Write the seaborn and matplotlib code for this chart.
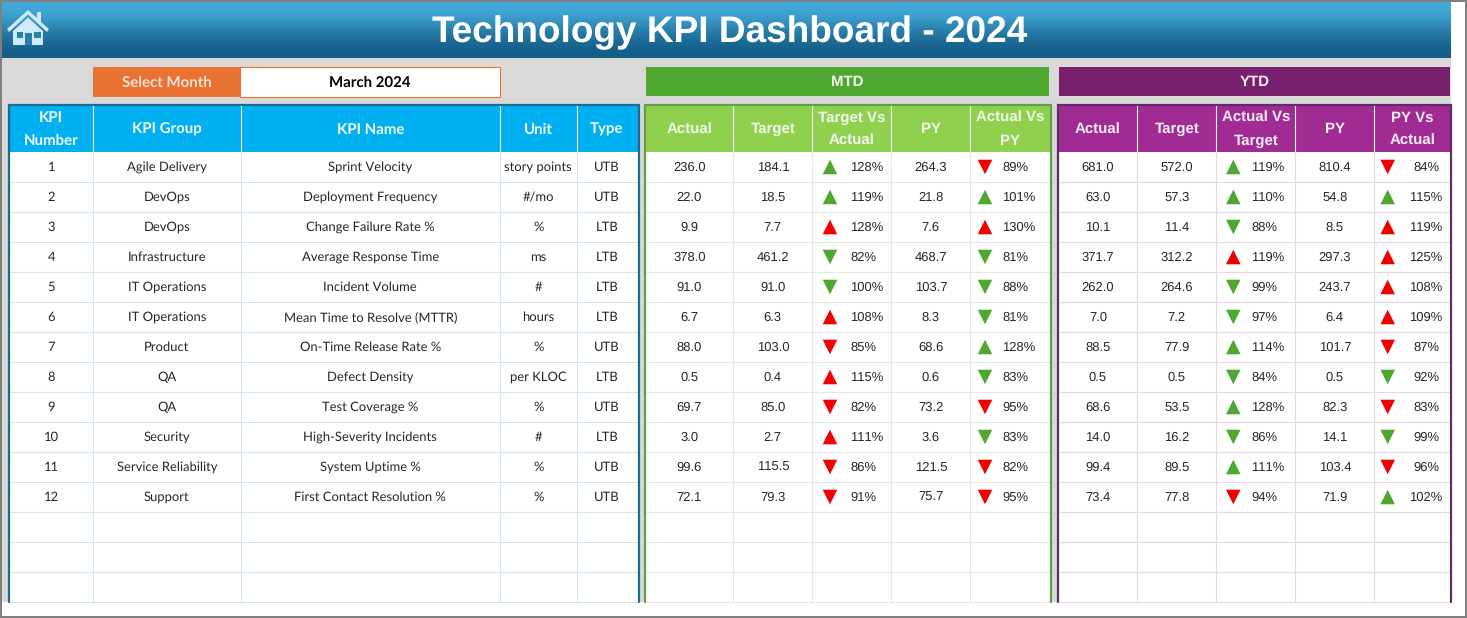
import numpy as np
import pandas as pd
import matplotlib
matplotlib.use('Agg')
import matplotlib.pyplot as plt
from matplotlib.patches import Rectangle, Polygon
import seaborn as sns

# ---- data ----
kpi_groups = ['Agile Delivery', 'DevOps', 'DevOps', 'Infrastructure', 'IT Operations', 'IT Operations',
              'Product', 'QA', 'QA', 'Security', 'Service Reliability', 'Support']
kpi_names = ['Sprint Velocity', 'Deployment Frequency', 'Change Failure Rate %', 'Average Response Time',
             'Incident Volume', 'Mean Time to Resolve (MTTR)', 'On-Time Release Rate %', 'Defect Density',
             'Test Coverage %', 'High-Severity Incidents', 'System Uptime %', 'First Contact Resolution %']
units = ['story points', '#/mo', '%', 'ms', '#', 'hours', '%', 'per KLOC', '%', '#', '%', '%']
types = ['UTB', 'UTB', 'LTB', 'LTB', 'LTB', 'LTB', 'UTB', 'LTB', 'UTB', 'LTB', 'UTB', 'UTB']

mtd_actual = [236.0, 22.0, 9.9, 378.0, 91.0, 6.7, 88.0, 0.5, 69.7, 3.0, 99.6, 72.1]
mtd_target = [184.1, 18.5, 7.7, 461.2, 91.0, 6.3, 103.0, 0.4, 85.0, 2.7, 115.5, 79.3]
mtd_py = [264.3, 21.8, 7.6, 468.7, 103.7, 8.3, 68.6, 0.6, 73.2, 3.6, 121.5, 75.7]
mtd_tva = [128, 119, 128, 82, 100, 108, 85, 115, 82, 111, 86, 91]
mtd_tva_dir = list('UUUDDUDUDUDD')
mtd_avp = [89, 101, 130, 81, 88, 81, 128, 83, 95, 83, 82, 95]
mtd_avp_dir = list('DUUDDDUDDDDD')

ytd_actual = [681.0, 63.0, 10.1, 371.7, 262.0, 7.0, 88.5, 0.5, 68.6, 14.0, 99.4, 73.4]
ytd_target = [572.0, 57.3, 11.4, 312.2, 264.6, 7.2, 77.9, 0.5, 53.5, 16.2, 89.5, 77.8]
ytd_py = [810.4, 54.8, 8.5, 297.3, 243.7, 6.4, 101.7, 0.5, 82.3, 14.1, 103.4, 71.9]
ytd_avt = [119, 110, 88, 119, 99, 97, 114, 84, 128, 86, 111, 94]
ytd_avt_dir = list('UUDUDDUDUDUD')
ytd_pva = [84, 115, 119, 125, 108, 109, 87, 92, 83, 99, 96, 102]
ytd_pva_dir = list('DUUUUUDDDDDU')

# ---- layout, in pixels of the 1467x618 picture ----
ROW_TOP = 151.5
ROW_H = 30
N_ROWS = 15
HEAD_TOP = 105
BOTTOM = 601.5
LEFT_EDGES = [9.5, 93, 240.5, 500, 576.5, 637.5]
MTD_EDGES = [645.5, 733.3, 812.3, 891.3, 970.3, 1049.5]
YTD_EDGES = [1058.5, 1137.3, 1216.3, 1295.3, 1374.3, 1450]

GREEN = '#4ea72e'
RED = '#f00000'
TEXT = '#262626'
BODY = 'Liberation Sans'
NARROW = 'Lato'

sns.set_theme(style='white')
plt.rcParams['text.hinting'] = 'no_hinting'
plt.rcParams['text.hinting_factor'] = 1
fig = plt.figure(figsize=(14.67, 6.18), dpi=100, facecolor='white')
ax = fig.add_axes([0, 0, 1, 1])
ax.set_axis_off()


def box(x0, y0, x1, y1, **kw):
    kw.setdefault('linewidth', 0)
    ax.add_patch(Rectangle((x0, y0), x1 - x0, y1 - y0, **kw))


def row_y(i):
    return ROW_TOP + ROW_H * (i + 0.5)


def draw_panel(edges, head_color, border, grid, headers, head_font, head_size, head_text):
    box(edges[0], HEAD_TOP, edges[-1], BOTTOM, facecolor='white', zorder=1)
    box(edges[0], HEAD_TOP, edges[-1], ROW_TOP, facecolor=head_color, zorder=2)
    ys = [ROW_TOP + ROW_H * k for k in range(1, N_ROWS + 1)]
    ax.hlines(ys, edges[0], edges[-1], color=grid, linewidth=0.8, zorder=3)
    ax.vlines(edges[1:-1], ROW_TOP, BOTTOM, color=grid, linewidth=0.8, zorder=3)
    ax.vlines(edges[1:-1], HEAD_TOP, ROW_TOP, color='#ffffff', linewidth=0.8, zorder=3)
    # open at the bottom, like the cropped sheet
    ax.plot([edges[0] - 1, edges[0] - 1, edges[-1] + 1, edges[-1] + 1],
            [BOTTOM, HEAD_TOP - 0.5, HEAD_TOP - 0.5, BOTTOM],
            color=border, linewidth=1.6, solid_joinstyle='miter', zorder=4)
    for c, label in enumerate(headers):
        cx = (edges[c] + edges[c + 1]) / 2
        lines = label.split('\n')
        line_ys = [118, 141] if len(lines) == 2 else [129.5]
        for line, y in zip(lines, line_ys):
            ax.text(cx, y, line, color=head_text, family=head_font, fontsize=head_size,
                    fontweight='bold', ha='center', va='center', zorder=5)


def draw_numbers(edges, c, values, font=BODY, size=9):
    cx = (edges[c] + edges[c + 1]) / 2
    for i, v in enumerate(values):
        label = v if isinstance(v, str) else f'{v:.1f}'
        ax.text(cx, row_y(i) + 1, label, color=TEXT, family=font, fontsize=size,
                ha='center', va='center', zorder=5)


def arrow_frame(x, pct_dirs):
    good = [(d == 'U') == (t == 'UTB') for d, t in zip(pct_dirs, types)]
    return pd.DataFrame({'x': x, 'y': [row_y(i) + 0.5 for i in range(len(pct_dirs))],
                         'dir': pct_dirs, 'good': good})


def draw_pct(values, dirs, arrow_x, text_x, ha='left'):
    for i, v in enumerate(values):
        ax.text(text_x, row_y(i) + 1, f'{v}%', color=TEXT, family=BODY, fontsize=9,
                ha=ha, va='center', zorder=5)
    return arrow_frame(arrow_x, dirs)


# background, banner and frame
box(2, 58, 1451, 602, facecolor='#d9d9d9', zorder=0)
grad = np.array([[0.0], [0.5], [1.0]])
cmap = matplotlib.colors.LinearSegmentedColormap.from_list('banner', ['#43acdc', '#2a80ac', '#135c86'])
ax.imshow(grad, extent=(2, 1451, 58, 2), aspect='auto', cmap=cmap, interpolation='bicubic', zorder=1)
ax.text(730, 33, 'Technology KPI Dashboard - 2024', color='white', family=BODY, fontsize=26.6,
        fontweight='bold', ha='center', va='center', zorder=5)

# home icon
ICON = '#cfeafa'
ICON_DARK = '#2b80ab'
ax.add_patch(Polygon([(7, 29), (28, 10), (37, 18), (37, 12), (41, 12), (41, 22), (49, 29),
                      (47, 32), (28, 14.5), (9, 32)], facecolor=ICON, linewidth=0, zorder=5))
ax.add_patch(Polygon([(13, 31), (28, 17.5), (43, 31), (43, 45), (13, 45)],
                     facecolor=ICON, linewidth=0, zorder=5))
box(17, 32, 23, 38, facecolor=ICON_DARK, zorder=6)
box(34, 32, 41, 38, facecolor=ICON_DARK, zorder=6)
box(25, 33, 32, 45, facecolor=ICON_DARK, zorder=6)

# selector and section banners
box(240, 67, 499.5, 97, facecolor='white', edgecolor='#e97132', linewidth=0.8, zorder=2)
box(93, 67, 241, 97, facecolor='#e97132', zorder=3)
ax.text(167, 82.5, 'Select Month', color='#fbe3d6', family=NARROW, fontsize=11, fontweight='bold',
        ha='center', va='center', zorder=5)
ax.text(370, 82.5, 'March 2024', color='black', family=NARROW, fontsize=11, fontweight='bold',
        ha='center', va='center', zorder=5)
box(646, 67, 1049, 96, facecolor=GREEN, zorder=2)
ax.text(847.5, 82, 'MTD', color='#f2f8ee', family=BODY, fontsize=10.5, fontweight='bold',
        ha='center', va='center', zorder=5)
box(1059, 67, 1450, 96, facecolor='#78206e', zorder=2)
ax.text(1254.5, 82, 'YTD', color='#f7eaf5', family=BODY, fontsize=10.5, fontweight='bold',
        ha='center', va='center', zorder=5)

# KPI table
draw_panel(LEFT_EDGES, '#00b0f0', '#1d6a92', '#cfe6ef',
           ['KPI\nNumber', 'KPI Group', 'KPI Name', 'Unit', 'Type'], NARROW, 11, '#f2fbff')
draw_numbers(LEFT_EDGES, 0, [str(i + 1) for i in range(len(kpi_names))], NARROW, 9.6)
draw_numbers(LEFT_EDGES, 1, kpi_groups, NARROW, 9.6)
draw_numbers(LEFT_EDGES, 2, kpi_names, NARROW, 9.6)
draw_numbers(LEFT_EDGES, 3, units, NARROW, 9.6)
draw_numbers(LEFT_EDGES, 4, types, NARROW, 9.6)

# MTD table
draw_panel(MTD_EDGES, '#8fd14f', '#5f9f4a', '#e2eadc',
           ['Actual', 'Target', 'Target Vs\nActual', 'PY', 'Actual Vs\nPY'], BODY, 10.5, '#f4fbec')
draw_numbers(MTD_EDGES, 0, mtd_actual)
draw_numbers(MTD_EDGES, 1, mtd_target)
draw_numbers(MTD_EDGES, 3, mtd_py)

# YTD table
draw_panel(YTD_EDGES, '#a02b93', '#5e2c66', '#e8d5ea',
           ['Actual', 'Target', 'Actual Vs\nTarget', 'PY', 'PY Vs\nActual'], BODY, 10.5, '#f9eef7')
draw_numbers(YTD_EDGES, 0, ytd_actual)
draw_numbers(YTD_EDGES, 1, ytd_target)
draw_numbers(YTD_EDGES, 3, ytd_py)

arrows = pd.concat([
    draw_pct(mtd_tva, mtd_tva_dir, 830, 850),
    draw_pct(mtd_avp, mtd_avp_dir, 985, 1002),
    draw_pct(ytd_avt, ytd_avt_dir, 1233.3, 1251),
    draw_pct(ytd_pva, ytd_pva_dir, 1387.7, 1426, ha='center'),
], ignore_index=True)

sns.scatterplot(data=arrows, x='x', y='y', hue='good', style='dir',
                palette={True: GREEN, False: RED}, markers={'U': '^', 'D': 'v'},
                s=110, linewidth=0, legend=False, zorder=6, ax=ax)

# picture frame
for rect in [(0, 0, 1467, 2), (0, 615.5, 1467, 618), (0, 0, 2, 618), (1465, 0, 1467, 618)]:
    box(*rect, facecolor='#7f7f7f', zorder=8)

ax.set_xlim(0, 1467)
ax.set_ylim(618, 0)
ax.set_xlabel('')
ax.set_ylabel('')
fig.savefig('out.png', dpi=100)
